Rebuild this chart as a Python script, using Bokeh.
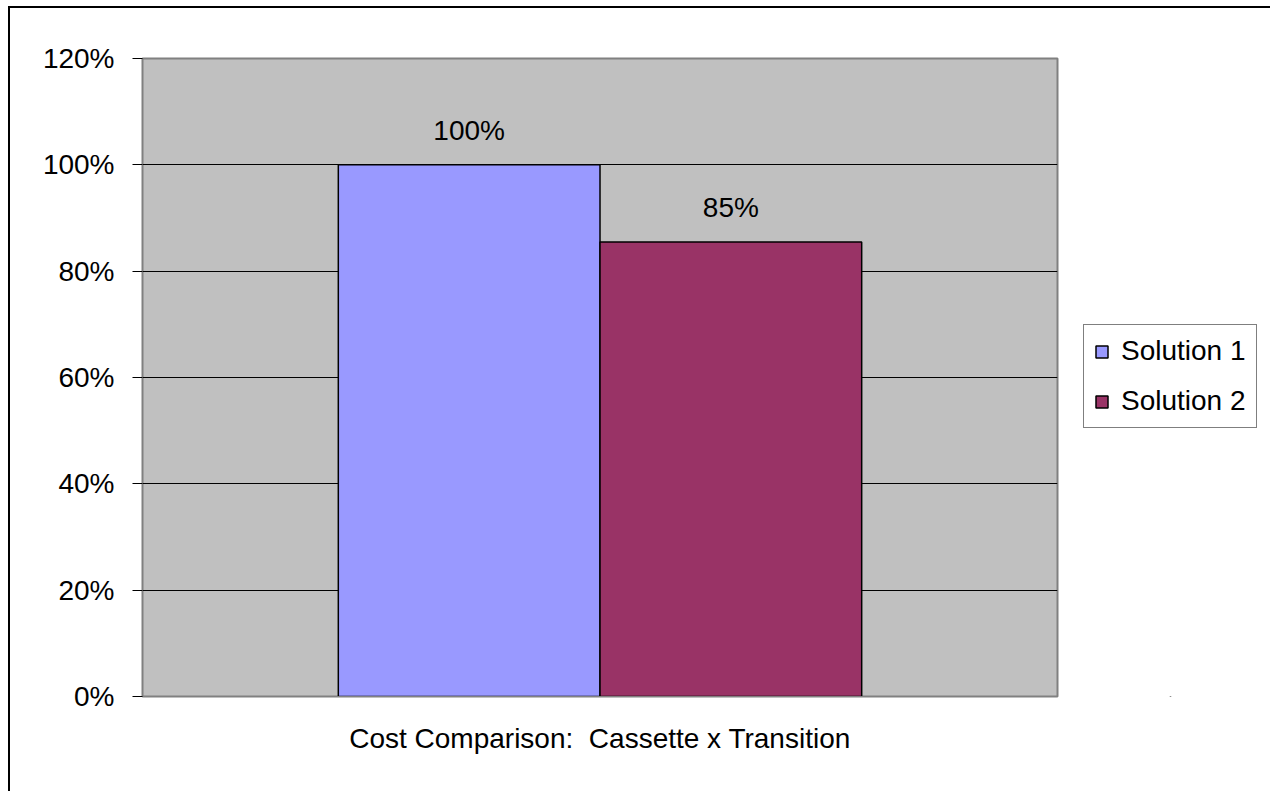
from bokeh.plotting import figure
from bokeh.layouts import row
from bokeh.models import (ColumnDataSource, FactorRange, Range1d, FixedTicker,
                          NumeralTickFormatter, LabelSet, Legend, LegendItem)
from bokeh.core.properties import value
from bokeh.transform import dodge
from bokeh.embed import file_html
from bokeh.resources import INLINE

categories = ["Cost Comparison:\u00a0 Cassette x Transition"]
series_names = ["Solution 1", "Solution 2"]
series_colors = ["#9999FF", "#993366"]
solution1 = [1.00]
solution2 = [0.855]
value_labels1 = ["100%"]
value_labels2 = ["85%"]
y_ticks = [0, 0.2, 0.4, 0.6, 0.8, 1.0, 1.2]

FONT = "Liberation Sans"
FS = "28px"

src = ColumnDataSource(dict(cat=categories, s1=solution1, s2=solution2,
                            l1=value_labels1, l2=value_labels2))

p = figure(width=1060, height=783, output_backend="svg", toolbar_location=None,
           x_range=FactorRange(factors=categories), y_range=Range1d(0, 1.2),
           min_border_left=132, min_border_top=50, min_border_right=13, min_border_bottom=95)
p.background_fill_color = "#C0C0C0"
p.border_fill_color = "white"
p.outline_line_color = "#808080"
p.outline_line_width = 2

bw = 0.286
p.vbar(x=dodge("cat", -bw / 2, range=p.x_range), top="s1", width=bw, source=src,
       fill_color=series_colors[0], line_color="black", line_width=1.5)
p.vbar(x=dodge("cat", bw / 2, range=p.x_range), top="s2", width=bw, source=src,
       fill_color=series_colors[1], line_color="black", line_width=1.5)

for col, lab, off in (("s1", "l1", -bw / 2), ("s2", "l2", bw / 2)):
    p.add_layout(LabelSet(x=dodge("cat", off, range=p.x_range), y=col, text=lab, source=src,
                          text_align="center", text_baseline="alphabetic", y_offset=25,
                          text_font=value(FONT), text_font_size=value(FS),
                          text_color="black"))

# y axis
p.yaxis.ticker = FixedTicker(ticks=y_ticks)
p.yaxis.formatter = NumeralTickFormatter(format="0%")
p.yaxis.major_label_text_font = FONT
p.yaxis.major_label_text_font_size = FS
p.yaxis.major_label_text_color = "black"
p.yaxis.major_label_standoff = 18
p.yaxis.major_tick_out = 10
p.yaxis.major_tick_in = 0
p.yaxis.minor_tick_line_color = None
p.yaxis.axis_line_color = "#808080"
p.yaxis.major_tick_line_color = "black"

p.ygrid.ticker = FixedTicker(ticks=y_ticks)
p.ygrid.grid_line_color = "black"
p.ygrid.grid_line_width = 1
p.xgrid.grid_line_color = None

# x axis: the category label
p.xaxis.major_label_text_font = FONT
p.xaxis.major_label_text_font_size = FS
p.xaxis.major_label_text_color = "black"
p.xaxis.major_label_standoff = 26
p.xaxis.major_tick_line_color = None
p.xaxis.major_tick_out = 0
p.xaxis.major_tick_in = 0
p.xaxis.axis_line_color = "#808080"

# legend panel (separate figure to the right of the plot area); its zero-width
# bars lie below its visible y range, so only the legend shows
q = figure(width=200, height=783, output_backend="svg", toolbar_location=None,
           x_range=FactorRange(factors=categories), y_range=Range1d(2, 3),
           x_axis_type=None, y_axis_type=None,
           min_border_left=0, min_border_right=0, min_border_top=0, min_border_bottom=0)
q.grid.visible = False
q.outline_line_color = None
q.background_fill_color = "white"
q.border_fill_color = "white"
leg_renderers = [q.vbar(x="cat", top=col, width=0, source=src, fill_color=c,
                        line_color="black", line_width=1.5)
                 for col, c in zip(("s1", "s2"), series_colors)]

legend = Legend(items=[LegendItem(label=n, renderers=[r])
                       for n, r in zip(series_names, leg_renderers)],
                location=(13, 268), orientation="vertical",
                label_text_font=FONT, label_text_font_size=FS, label_text_color="black",
                glyph_width=15, glyph_height=15, label_height=32, label_standoff=12,
                spacing=18, padding=10, margin=0,
                border_line_color="black", border_line_width=1,
                background_fill_color="white", background_fill_alpha=1)
q.add_layout(legend, "center")

layout = row(p, q, spacing=0,
             styles={"margin-left": "8px", "margin-top": "6px",
                     "border-left": "2px solid black", "border-top": "2px solid black"})

open("out.html", "w").write(file_html(layout, INLINE))
